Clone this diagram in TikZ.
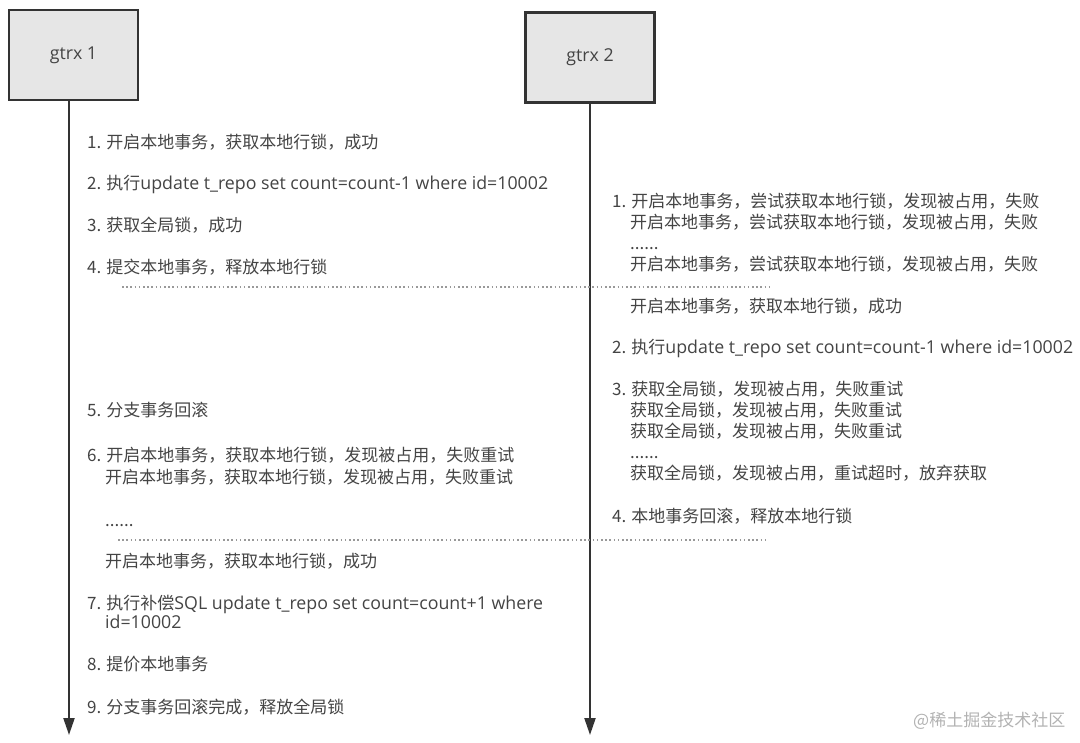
\documentclass[tikz,border=0pt]{standalone}
\usepackage{fontspec}
\setmainfont{Noto Sans CJK SC}
\newfontfamily\latn{Open Sans}[Scale=1.045]
\newcommand\lat[1]{{\latn #1}}
\usepackage{tikz}
\usetikzlibrary{arrows.meta, positioning}
\definecolor{gInk}  {HTML}{333333}
\definecolor{gText} {HTML}{444444}
\definecolor{gBox}  {HTML}{E6E6E6}
\definecolor{gDot}  {HTML}{999999}
\tikzset{
  gtrx/.style={draw=gInk, fill=gBox, line width=2.2pt, minimum width=129pt,
    minimum height=90pt, text=gText, font=\latn\fontsize{17}{20}\selectfont},
  txt/.style={anchor=base west, inner sep=0pt, yshift=-6pt, text=gText,
    font=\fontsize{17}{20}\selectfont},
  life/.style={draw=gInk, line width=2.2pt, -{Triangle[length=17pt, width=11pt]}},
  sepline/.style={draw=gDot, line width=1.8pt, dash pattern=on 1.6pt off 2.6pt}
}

\begin{document}
\begin{tikzpicture}[x=1pt, y=-1pt]
    \useasboundingbox (0,0) rectangle (1080,743);

    % Participants
    \node[gtrx] (g1) at (73.5,55) {gtrx 1};
    \node[gtrx] (g2) at (590,57.5) {gtrx 2};

    % Lifelines
    \coordinate (e1) at (69,735);
    \coordinate (e2) at (590,735);
    \draw[life] (g1.south -| e1) -- (e1);
    \draw[life] (g2.south) -- (e2);

    % gtrx 1 steps
    \foreach \x/\y/\t [count=\i] in {
      87/143/{1. 开启本地事务，获取本地行锁，成功},
      87/184/{2. 执行\lat{update t\_repo set count=count-1 where id=10002}},
      87/226/{3. 获取全局锁，成功},
      87/268/{4. 提交本地事务，释放本地行锁},
      87/411/{5. 分支事务回滚},
      87/456/{6. 开启本地事务，获取本地行锁，发现被占用，失败重试},
      105/477/{开启本地事务，获取本地行锁，发现被占用，失败重试},
      105/520/{......},
      105/561/{开启本地事务，获取本地行锁，成功},
      87/603/{7. 执行补偿\lat{SQL update t\_repo set count=count+1 where}},
      105/622/{\lat{id=10002}},
      87/664/{8. 提价本地事务},
      87/707/{9. 分支事务回滚完成，释放全局锁}}{
      \node[txt] (a\i) at (\x,\y) {\t};
    }

    % gtrx 2 steps
    \foreach \x/\y/\t [count=\i] in {
      612/202/{1. 开启本地事务，尝试获取本地行锁，发现被占用，失败},
      630/223/{开启本地事务，尝试获取本地行锁，发现被占用，失败},
      630/244/{......},
      630/265/{开启本地事务，尝试获取本地行锁，发现被占用，失败},
      630/307/{开启本地事务，获取本地行锁，成功},
      612/348/{2. 执行\lat{update t\_repo set count=count-1 where id=10002}},
      612/390/{3. 获取全局锁，发现被占用，失败重试},
      630/411/{获取全局锁，发现被占用，失败重试},
      630/432/{获取全局锁，发现被占用，失败重试},
      630/452/{......},
      630/473/{获取全局锁，发现被占用，重试超时，放弃获取},
      612/516/{4. 本地事务回滚，释放本地行锁}}{
      \node[txt] (b\i) at (\x,\y) {\t};
    }

    % Hand-over marks
    \coordinate (s1a) at (122,287);
    \coordinate (s1b) at (772,287);
    \coordinate (s2a) at (118,540);
    \coordinate (s2b) at (768,540);
    \draw[sepline] (s1a) -- (s1b);
    \draw[sepline] (s2a) -- (s2b);

    \node[txt, text=gray!60] (wm) at (913,720) {@稀土掘金技术社区};
\end{tikzpicture}
\end{document}
